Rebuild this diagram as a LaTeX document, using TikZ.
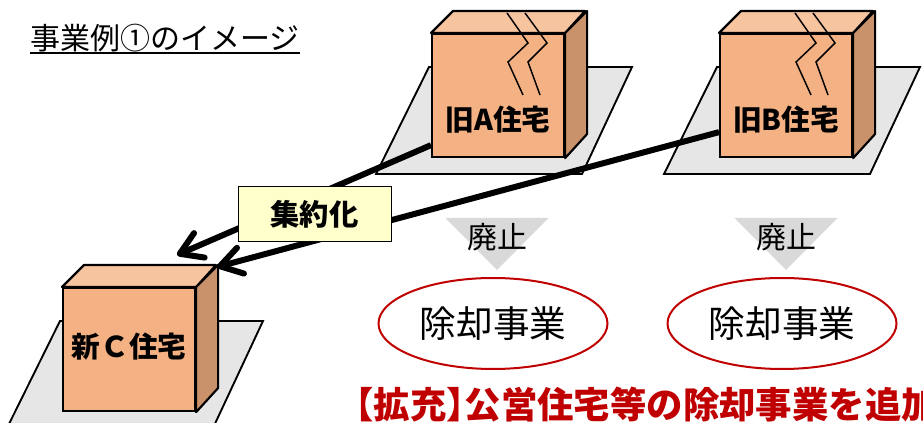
\documentclass[tikz,border=0pt]{standalone}
\usepackage{fontspec}
\setmainfont{Noto Sans CJK JP}
\usetikzlibrary{arrows.meta,shapes.geometric,positioning}

\definecolor{boxfront}{HTML}{F4B183}
\definecolor{boxtop}{HTML}{F7C4A0}
\definecolor{boxside}{HTML}{C9926B}
\definecolor{floorgray}{HTML}{E6E6E6}
\definecolor{markgray}{HTML}{D9D9D9}
\definecolor{notered}{HTML}{C00000}
\definecolor{tagyellow}{HTML}{FFFFCC}

% #1 name, #2 front top-left corner, #3 label, #4 label drop
\newcommand\house[4]{%
\begin{scope}[shift={#2}]
 \draw[floor] (-2,34) -- (201,34) -- (151,141) -- (-55,141) -- cycle;
 \node[front] (#1) at (0,0) {};
 \draw[boxline,fill=boxtop] (#1.north west) -- ++(22,-22) -- ++(132,0) -- (#1.north east) -- cycle;
 \draw[boxline,fill=boxside] (#1.north east) -- ++(22,-22) -- ++(0,123) -- (#1.south east) -- cycle;
 \node[houselabel] (#1label) at ([shift={(0,#4)}]#1.center) {#3};
\end{scope}}

\begin{document}
\begin{tikzpicture}[x=0.75pt,y=-0.75pt,
 floor/.style={draw,line width=1.4pt,fill=floorgray},
 front/.style={draw,line width=1.6pt,fill=boxfront,anchor=north west,inner sep=0pt,minimum width=99pt,minimum height=92.25pt},
 boxline/.style={line width=1.6pt,line join=round},
 houselabel/.style={inner sep=0pt,font=\fontsize{21.5}{24}\selectfont\bfseries},
 crack/.style={line width=1.1pt},
 conn/.style={line width=4.5pt,-{Straight Barb[length=16pt,width=20pt,round]}},
 tag/.style={draw,line width=0.75pt,fill=tagyellow,inner sep=0pt,minimum width=114.75pt,minimum height=41.25pt,font=\fontsize{22}{26}\selectfont\bfseries},
 stopmark/.style={fill=markgray},
 stoptext/.style={inner sep=0pt,font=\fontsize{22.5}{26}\selectfont},
 demol/.style={ellipse,draw=notered,line width=1.5pt,fill=white,inner sep=0pt,minimum width=171.75pt,minimum height=68.25pt,font=\fontsize{27.5}{30}\selectfont}]
\useasboundingbox (0,0) rectangle (923,423);
\clip (0,0) rectangle (923,423);

\node[anchor=base west,inner sep=0pt,font=\fontsize{22.5}{26}\selectfont] (title) at (30,50) {事業例①のイメージ};
\draw[line width=1.1pt] (title.south west) -- (title.south east);

\house{ha}{(431,33)}{旧A住宅}{24}
\house{hb}{(719,33)}{旧B住宅}{24}
\house{hc}{(62,287)}{新Ｃ住宅}{-3}

\foreach \h in {ha,hb}
 \draw[crack] ([shift={(76,-20)}]\h.north west) -- ++(21,30) -- ++(-20,19) -- ++(15,33)
 ([shift={(94,-20)}]\h.north west) -- ++(22,30) -- ++(-19,19) -- ++(12,33);

\draw[conn] ([shift={(0,-13)}]ha.south west) -- ([shift={(115,-32)}]hc.north west);
\draw[conn] ([shift={(0,-26)}]hb.south west) -- ([shift={(155,-20)}]hc.north west);
\node[tag] (merge) at (314.5,214.5) {集約化};

\foreach \x/\s in {497/a,786/b}{
 \fill[stopmark] (\x-51.5,218) -- (\x+51.5,218) -- (\x,270) -- cycle;
 \node[stoptext] (stop\s) at (\x,237) {廃止};
 \node[demol] (demol\s) at (\x-4,323.5) {除却事業};
}

\node[anchor=base west,inner sep=0pt,text=notered,font=\fontsize{27.3}{30}\selectfont\bfseries] (addnote) at (337,418) {【拡充】\kern-.5em 公営住宅等の除却事業を追加};
\end{tikzpicture}
\end{document}
